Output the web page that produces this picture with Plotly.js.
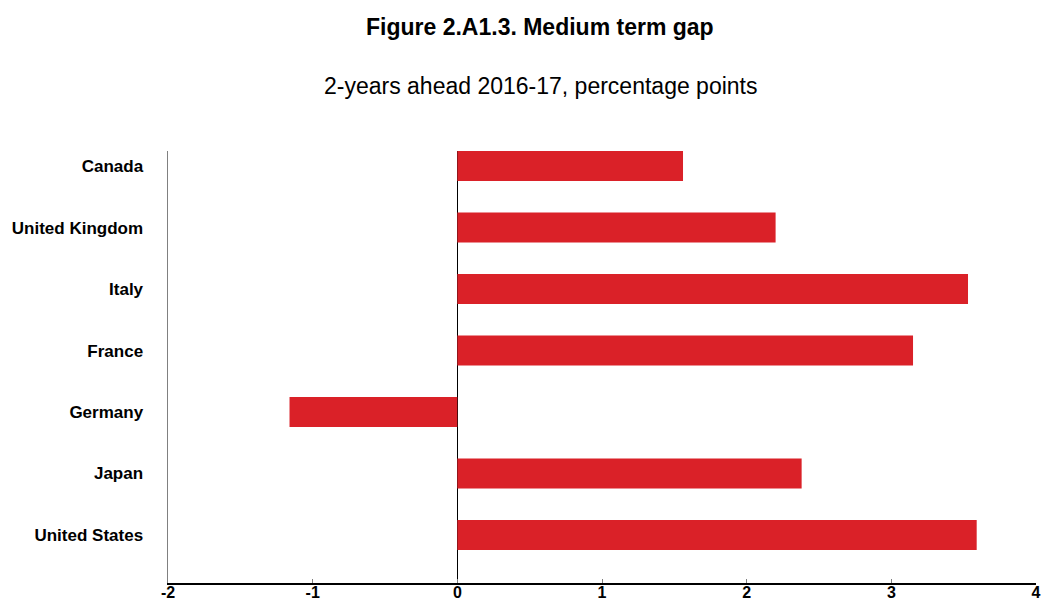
<!DOCTYPE html>
<html>
<head>
<meta charset="utf-8">
<script src="https://cdn.plot.ly/plotly-3.0.1.min.js"></script>
<style>html,body{margin:0;padding:0;background:#fff;}#chart{width:1042px;height:604px;}</style>
</head>
<body>
<div id="chart"></div>
<script>
const countries = ["Canada", "United Kingdom", "Italy", "France", "Germany", "Japan", "United States"];
const gapValues = [1.56, 2.20, 3.53, 3.15, -1.16, 2.38, 3.59];
const xTickValues = [-2, -1, 0, 1, 2, 3, 4];
const titleText = "Figure 2.A1.3. Medium term gap";
const subtitleText = "2-years ahead 2016-17, percentage points";

const trace = {
  type: "bar",
  orientation: "h",
  y: countries,
  x: gapValues,
  marker: {color: "#DA2128", line: {width: 0}},
  hoverinfo: "x+y"
};

const layout = {
  width: 1042,
  height: 604,
  paper_bgcolor: "#ffffff",
  plot_bgcolor: "#ffffff",
  margin: {l: 168, r: 6, t: 151, b: 21},
  bargap: 0.514,
  showlegend: false,
  font: {family: "Liberation Sans, Arial, sans-serif", color: "#000000"},
  xaxis: {
    range: [-2, 4],
    tickvals: xTickValues,
    ticktext: xTickValues.map(String),
    ticks: "inside",
    ticklen: 4,
    tickwidth: 1,
    tickcolor: "#808080",
    showgrid: false,
    zeroline: true,
    zerolinecolor: "#000000",
    zerolinewidth: 1,
    showline: true,
    linecolor: "#000000",
    linewidth: 1.5,
    ticklabelstandoff: -6,
    tickfont: {size: 16, family: "Liberation Sans, Arial, sans-serif", weight: "bold", color: "#000"},
    fixedrange: true
  },
  yaxis: {
    type: "category",
    categoryorder: "array",
    categoryarray: countries,
    range: [6.78, -0.245],
    showgrid: false,
    zeroline: false,
    showline: true,
    linecolor: "#808080",
    linewidth: 1.5,
    ticks: "",
    ticklabelstandoff: 20,
    tickfont: {size: 17, family: "Liberation Sans, Arial, sans-serif", weight: "bold", color: "#000"},
    fixedrange: true
  },
  annotations: [
    {text: "<b>" + titleText + "</b>", xref: "paper", yref: "paper", x: 0.4286, y: 1, yshift: 124,
     xanchor: "center", yanchor: "middle", showarrow: false,
     font: {size: 23, family: "Liberation Sans, Arial, sans-serif", color: "#000"}},
    {text: subtitleText, xref: "paper", yref: "paper", x: 0.4286, y: 1, yshift: 65,
     xanchor: "center", yanchor: "middle", showarrow: false,
     font: {size: 23, family: "Liberation Sans, Arial, sans-serif", color: "#000"}}
  ]
};

Plotly.newPlot("chart", [trace], layout, {displayModeBar: false, staticPlot: true});
</script>
</body>
</html>
